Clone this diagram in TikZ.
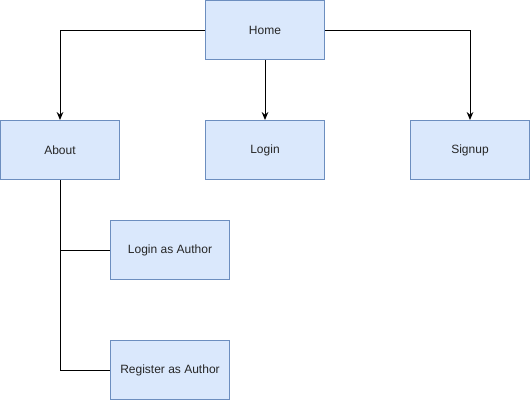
\documentclass[tikz,border=0pt]{standalone}
\usepackage{fontspec}
\setmainfont{Liberation Sans}
\usepackage{xcolor}
\usetikzlibrary{arrows.meta, positioning}
\definecolor{boxfill}{HTML}{DAE8FC}
\definecolor{boxline}{HTML}{6C8EBF}

\begin{document}
\begin{tikzpicture}[
    x=0.75pt, y=-0.75pt,
    page/.style={rectangle, draw=boxline, fill=boxfill, line width=0.75pt, minimum width=89.25pt, minimum height=44.25pt, align=center, font=\fontsize{9}{11}\selectfont, text=black!85},
    arrow/.style={-{Stealth[length=6pt, width=5pt, inset=2pt]}, line width=0.75pt},
    link/.style={line width=0.75pt}
]
\useasboundingbox (0,0) rectangle (531,401);

% Top level
\node[page] (home) at (265,30) {Home};

% Second level
\node[page] (about) at (60,150) {About};
\node[page] (login) at (265,150) {Login};
\node[page] (signup) at (470,150) {Signup};

% Author pages
\node[page] (loginauthor) at (170,250) {Login as Author};
\node[page] (register) at (170,370) {Register as Author};

% Arrows
\draw[arrow] (home.west) -| (about.north);
\draw[arrow] (home.south) -- (login.north);
\draw[arrow] (home.east) -| (signup.north);
\draw[link] (about.south) |- (loginauthor.west);
\draw[link] (about.south) |- (register.west);

\end{tikzpicture}
\end{document}
